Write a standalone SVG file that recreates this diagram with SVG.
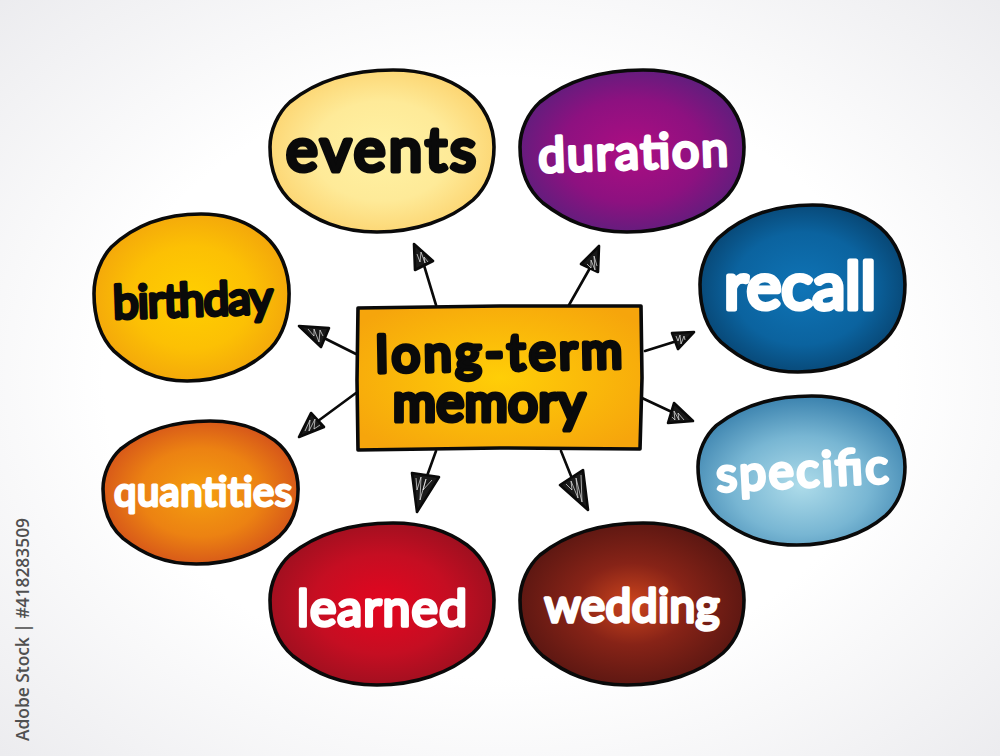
<svg xmlns="http://www.w3.org/2000/svg" width="1000" height="756" viewBox="0 0 1000 756">
<style>
.blob{stroke:#0a0a0a;stroke-width:3.6;stroke-linejoin:round}
.lb{font-family:"Lato","Open Sans",sans-serif;font-weight:400;text-anchor:middle;stroke-linejoin:round;stroke-linecap:round;paint-order:stroke}
.w{fill:#fff;stroke:#fff}
.k{fill:#0a0a0a;stroke:#0a0a0a}
.ln{stroke:#0a0a0a;stroke-width:2.6;fill:none;stroke-linecap:round}
.hd{fill:#1a1a1a;stroke:#0a0a0a;stroke-width:2.6;stroke-linejoin:round}
.ht{stroke:#fff;stroke-width:.8;fill:none;opacity:.8}
</style>
<defs>
<path id="blob" vector-effect="non-scaling-stroke" d="M20 32C45 12 80 0 123 0C155 0 178 8 197 22C214 35 224 55 224 77C224 100 217 117 203 130C180 150 145 162 107 162C70 162 45 150 23 133C8 120 0 100 0 77C0 60 8 43 20 32Z"/>
<radialGradient id="bg" cx="50%" cy="50%" r="72%"><stop offset="0.55" stop-color="#ffffff"/><stop offset="1" stop-color="#ebebee"/></radialGradient>
<radialGradient id="gE" r="56%"><stop offset="0" stop-color="#fff2a4"/><stop offset="0.55" stop-color="#feea98"/><stop offset="1" stop-color="#fcd26c"/></radialGradient>
<radialGradient id="gD" r="58%"><stop offset="0" stop-color="#ad0d82"/><stop offset="0.55" stop-color="#8d1180"/><stop offset="1" stop-color="#54217c"/></radialGradient>
<radialGradient id="gR" r="56%"><stop offset="0" stop-color="#0f74b6"/><stop offset="0.6" stop-color="#0b639f"/><stop offset="1" stop-color="#07416c"/></radialGradient>
<radialGradient id="gS" cy="60%" r="60%"><stop offset="0" stop-color="#aedcea"/><stop offset="0.55" stop-color="#78b6d3"/><stop offset="1" stop-color="#3b82ae"/></radialGradient>
<radialGradient id="gW" r="56%"><stop offset="0" stop-color="#cd451d"/><stop offset="0.45" stop-color="#872317"/><stop offset="1" stop-color="#551511"/></radialGradient>
<radialGradient id="gL" r="56%"><stop offset="0" stop-color="#e4051f"/><stop offset="0.55" stop-color="#c50e22"/><stop offset="1" stop-color="#98101f"/></radialGradient>
<radialGradient id="gQ" r="56%"><stop offset="0" stop-color="#f59f0f"/><stop offset="0.55" stop-color="#ec8212"/><stop offset="1" stop-color="#d24e1b"/></radialGradient>
<radialGradient id="gB" r="56%"><stop offset="0" stop-color="#ffcf00"/><stop offset="0.55" stop-color="#fcc004"/><stop offset="1" stop-color="#f2a30c"/></radialGradient>
<radialGradient id="gC" r="62%"><stop offset="0" stop-color="#ffce07"/><stop offset="1" stop-color="#f6a50c"/></radialGradient>
</defs>
<rect width="1000" height="756" fill="url(#bg)"/>
<text transform="translate(29,741) rotate(-90)" font-family="'Open Sans',sans-serif" font-size="17.5" font-weight="600" fill="#505050" textLength="223" lengthAdjust="spacingAndGlyphs" x="0" y="0">Adobe Stock | #418283509</text>

<g id="connectors">
<path class="ln" d="M436 305L423 262M569 305L590 268M645 351L677 341M642 398L674 413M561 451L571 476M436 451L427 476M356 393L318 421M356 354L322 337"/>
<path class="hd" d="M414 244L433 261L415 270Z"/><path class="ht" d="M417 254L420 262L421 252L425 263L424 257L428 262"/>
<path class="hd" d="M599 246L598 272L581 264Z"/><path class="ht" d="M587 264L591 268L591 260L595 270L594 256L597 266"/>
<path class="hd" d="M694 332L678 349L672 333Z"/><path class="ht" d="M676 336L678 341L680 335L681 344L684 336L685 340"/>
<path class="hd" d="M693 421L668 423L674 403Z"/><path class="ht" d="M672 417L675 420L674 411L679 420L678 413L684 420"/>
<path class="hd" d="M588 510L560 485L583 470Z"/><path class="ht" d="M566 484L572 490L571 481L578 498L576 478L582 502L581 475"/>
<path class="hd" d="M417 512L412 473L439 477Z"/><path class="ht" d="M416 478L417 490L421 477L420 500L426 479L423 490L432 480"/>
<path class="hd" d="M299 437L311 413L324 427Z"/><path class="ht" d="M305 431L310 420L309 431L315 419L314 429L320 425"/>
<path class="hd" d="M299 326L329 328L321 347Z"/><path class="ht" d="M308 329L314 336L314 329L319 342L320 330L323 336"/>
</g>

<g id="node-center">
<path class="blob" fill="url(#gC)" d="M358 308L500 306L641 306L642 378L640 449L500 448L358 450L357 380Z"/>
<text class="lb k" transform="rotate(-1 499 350)" x="499" y="370" font-size="50" stroke-width="5" textLength="246" lengthAdjust="spacing">long-term</text>
<text class="lb k" x="489" y="421" font-size="52" stroke-width="5.2" textLength="192" lengthAdjust="spacing">memory</text>
</g>
<g id="node-events">
<use href="#blob" class="blob" fill="url(#gE)" transform="translate(270 70)"/>
<text class="lb k" x="381" y="171" font-size="60" stroke-width="5" textLength="190" lengthAdjust="spacing">events</text>
</g>
<g id="node-duration">
<use href="#blob" class="blob" fill="url(#gD)" transform="translate(520 70)"/>
<text class="lb w" transform="rotate(-2 633 150)" x="633" y="169" font-size="48" stroke-width="3.6" textLength="190" lengthAdjust="spacing">duration</text>
</g>
<g id="node-recall">
<use href="#blob" class="blob" fill="url(#gR)" transform="translate(700 205) scale(.915 1.031)"/>
<text class="lb w" x="800" y="309" font-size="66" stroke-width="5" textLength="152" lengthAdjust="spacing">recall</text>
</g>
<g id="node-specific">
<use href="#blob" class="blob" fill="url(#gS)" transform="translate(698 396) scale(.924 .92)"/>
<text class="lb w" transform="rotate(-3 802 470)" x="802" y="487" font-size="48" stroke-width="3.6" textLength="172" lengthAdjust="spacing">specific</text>
</g>
<g id="node-wedding">
<use href="#blob" class="blob" fill="url(#gW)" transform="translate(520 523)"/>
<text class="lb w" x="632" y="622" font-size="46" stroke-width="3.4" textLength="175" lengthAdjust="spacing">wedding</text>
</g>
<g id="node-learned">
<use href="#blob" class="blob" fill="url(#gL)" transform="translate(270 523)"/>
<text class="lb w" x="382" y="626" font-size="50" stroke-width="3.6" textLength="170" lengthAdjust="spacing">learned</text>
</g>
<g id="node-quantities">
<use href="#blob" class="blob" fill="url(#gQ)" transform="translate(103 421) scale(.871 .883)"/>
<text class="lb w" x="203" y="506" font-size="40" stroke-width="3" textLength="178" lengthAdjust="spacing">quantities</text>
</g>
<g id="node-birthday">
<use href="#blob" class="blob" fill="url(#gB)" transform="translate(94 214) scale(.871 1.031)"/>
<text class="lb k" transform="rotate(-2 193 300)" x="193" y="316" font-size="46" stroke-width="3.8" textLength="160" lengthAdjust="spacing">birthday</text>
</g>
</svg>
